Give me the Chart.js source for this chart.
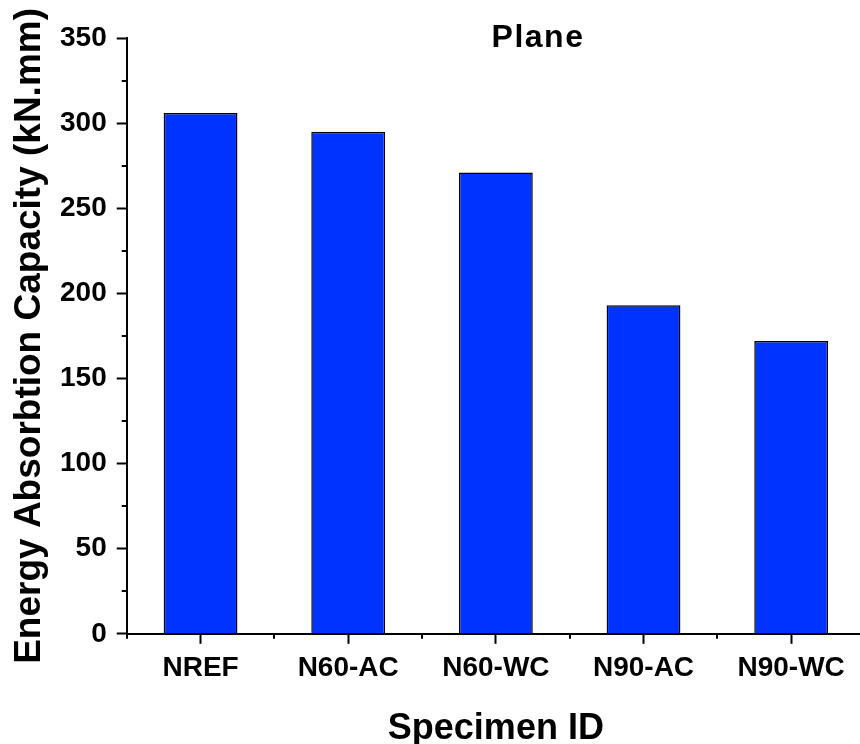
<!DOCTYPE html>
<html>
<head>
<meta charset="utf-8">
<script src="https://cdn.jsdelivr.net/npm/chart.js@4/dist/chart.umd.min.js"></script>
<style>
    html, body { margin: 0; padding: 0; background: #fff; overflow: hidden; }
    #wrap { width: 866px; height: 744px; }
</style>
</head>
<body>
<div id="wrap"><canvas id="energyChart" width="866" height="744"></canvas></div>
<script>
const specimens = ['NREF', 'N60-AC', 'N60-WC', 'N90-AC', 'N90-WC'];
const energyValues = [306, 295, 271, 193, 172];
const yMinorTicks = [25, 75, 125, 175, 225, 275, 325];
const panelTitle = 'Plane';

const FONT = "'Liberation Sans', Arial, sans-serif";

// minor ticks + the "Plane" label inside the plot
const extrasPlugin = {
    id: 'extras',
    afterDraw(chart) {
        const ctx = chart.ctx;
        const x = chart.scales.x;
        const y = chart.scales.y;
        ctx.save();
        ctx.strokeStyle = '#000';
        ctx.lineWidth = 2;
        ctx.beginPath();
        yMinorTicks.forEach(v => {
            const py = Math.round(y.getPixelForValue(v));
            ctx.moveTo(x.left, py);
            ctx.lineTo(x.left - 5, py);
        });
        // category boundaries on x
        for (let i = 0; i <= specimens.length; i++) {
            const px = Math.round(x.getPixelForValue(i - 0.5));
            ctx.moveTo(px, y.bottom);
            ctx.lineTo(px, y.bottom + 5);
        }
        ctx.stroke();

        ctx.fillStyle = '#000';
        ctx.font = 'bold 32px ' + FONT;
        ctx.letterSpacing = '1.5px';
        ctx.textAlign = 'center';
        ctx.textBaseline = 'alphabetic';
        ctx.fillText(panelTitle, 538, 47);
        ctx.restore();
    }
};

new Chart(document.getElementById('energyChart'), {
    type: 'bar',
    data: {
        labels: specimens,
        datasets: [{
            data: energyValues,
            backgroundColor: '#0033ff',
            borderColor: '#000',
            borderWidth: 1.5,
            barPercentage: 0.5,
            categoryPercentage: 1.0,
        }],
    },
    options: {
        responsive: false,
        animation: false,
        layout: { padding: { top: 38, right: 1, left: 11, bottom: 0 } },
        plugins: {
            legend: { display: false },
            tooltip: { enabled: false },
        },
        scales: {
            x: {
                offset: true,
                grid: {
                    offset: false,
                    drawOnChartArea: false,
                    drawTicks: true,
                    tickLength: 10,
                    tickWidth: 2,
                    tickColor: '#000',
                },
                border: { display: true, color: '#000', width: 2 },
                ticks: {
                    color: '#000',
                    padding: 8,
                    maxRotation: 0,
                    font: { family: FONT, size: 28, weight: 'bold' },
                },
                title: {
                    display: true,
                    text: 'Specimen ID',
                    color: '#000',
                    font: { family: FONT, size: 36, weight: 'bold', lineHeight: 0.85 },
                    padding: { top: 20, bottom: 0 },
                },
            },
            y: {
                min: 0,
                max: 350,
                grid: {
                    drawOnChartArea: false,
                    drawTicks: true,
                    tickLength: 10,
                    tickWidth: 2,
                    tickColor: '#000',
                },
                border: { display: true, color: '#000', width: 2 },
                ticks: {
                    stepSize: 50,
                    color: '#000',
                    padding: 10,
                    font: { family: FONT, size: 28, weight: 'bold' },
                },
                title: {
                    display: true,
                    text: 'Energy Absorbtion Capacity (kN.mm)',
                    color: '#000',
                    font: { family: FONT, size: 37, weight: 'bold', lineHeight: 1.0 },
                    padding: { top: 0, bottom: 2 },
                },
            },
        },
    },
    plugins: [extrasPlugin],
});
</script>
</body>
</html>
